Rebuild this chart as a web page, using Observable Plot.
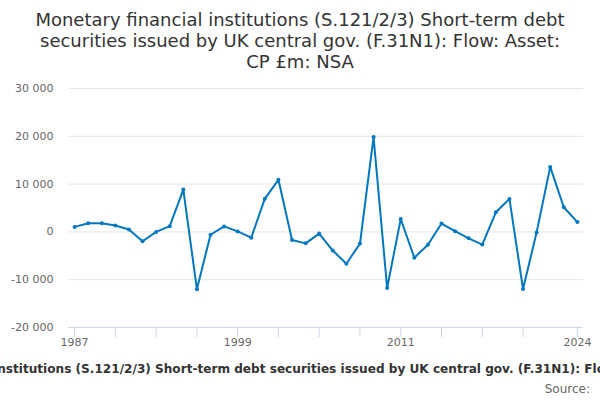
<!DOCTYPE html>
<html><head><meta charset="utf-8">
<script src="https://cdn.jsdelivr.net/npm/d3@7"></script>
<script src="https://cdn.jsdelivr.net/npm/@observablehq/plot@0.6"></script>
<style>
body{margin:0;width:600px;height:400px;overflow:hidden;font-family:"DejaVu Sans",sans-serif;position:relative;background:#fff}
#title{position:absolute;top:9px;left:0;width:600px;text-align:center;font-size:18px;line-height:21px;color:#333}
#chart{position:absolute;top:80px;left:0}
#caption{position:absolute;top:362px;left:307px;transform:translateX(-50%);white-space:nowrap;font-weight:bold;font-size:12.1px;color:#333}
#source{position:absolute;top:382px;right:10px;font-size:12px;color:#666}
</style>
</head><body>
<div id="title">Monetary financial institutions (S.121/2/3) Short-term debt<br>securities issued by UK central gov. (F.31N1): Flow: Asset:<br>CP £m: NSA</div>
<div id="chart"></div>
<div id="caption">Monetary financial institutions (S.121/2/3) Short-term debt securities issued by UK central gov. (F.31N1): Flow: Asset: CP £m: NSA</div>
<div id="source">Source:</div>
<script>
const years = [1987,1988,1989,1990,1991,1992,1993,1994,1995,1996,1997,1998,1999,2000,2001,2002,2003,2004,2005,2006,2007,2008,2009,2010,2011,2012,2013,2014,2015,2016,2017,2018,2019,2020,2021,2022,2023,2024];
const values = [1050,1800,1800,1350,500,-1950,0,1200,8850,-12000,-600,1150,100,-1200,6950,10900,-1700,-2400,-350,-3900,-6650,-2450,19850,-11750,2700,-5400,-2700,1750,150,-1350,-2650,4100,6900,-11950,-100,13600,5150,2050];
const yTicks = [-20000,-10000,0,10000,20000,30000];
const xTicks = [1987,1990,1993,1996,1999,2002,2005,2008,2011,2014,2017,2020,2024];
const xLabels = [1987,1999,2011,2024];

const data = years.map((y,i)=>({year:y, value:values[i]}));
const fmt = d => (d<0?"-":"") + d3.format(",")(Math.abs(d)).replace(/,/g," ");

const chart = Plot.plot({
  width:600, height:270,
  marginTop:8, marginBottom:23, marginLeft:68, marginRight:17,
  style:{fontFamily:"DejaVu Sans", fontSize:"11px", background:"transparent"},
  x:{domain:[1986.55,2024.45]},
  y:{domain:[-20000,30000]},
  marks:[
    Plot.ruleY(yTicks.filter(v=>v>-20000), {stroke:"#e6e6e6", strokeWidth:1}),
    Plot.ruleY([-20000], {stroke:"#ccd6eb", strokeWidth:1}),
    Plot.axisY({ticks:yTicks, tickSize:0, tickPadding:15, tickFormat:fmt, fill:"#666", label:null}),
    Plot.axisX({ticks:xTicks, tickSize:10, tickPadding:1, stroke:"#ccd6eb", strokeOpacity:1, fill:"#666", label:null, tickFormat:d=>xLabels.includes(d)?String(d):""}),
    Plot.line(data, {x:"year", y:"value", stroke:"#0077c0", strokeWidth:2}),
    Plot.dot(data, {x:"year", y:"value", fill:"#0077c0", r:2})
  ]
});
document.getElementById("chart").appendChild(chart);
</script>
</body></html>
